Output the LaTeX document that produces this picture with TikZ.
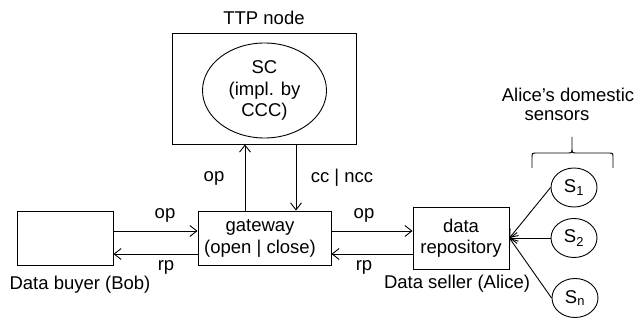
\documentclass[tikz,border=0pt]{standalone}
\usepackage{fontspec}
\setmainfont{Liberation Sans}
\usetikzlibrary{arrows.meta,shapes.geometric}
\begin{document}
\begin{tikzpicture}[x=1pt,y=-1pt,line width=0.9pt,
  every node/.style={font=\fontsize{18.5}{21.5}\selectfont},
  arr/.style={-{Straight Barb[length=7pt,width=11pt]}},
  box/.style={draw,inner sep=0pt,align=center},
  sensor/.style={draw,ellipse,inner sep=0pt,minimum width=46pt,minimum height=39pt},
  lbl/.style={inner sep=0pt}]
\useasboundingbox (0,0) rectangle (636,320);
% TTP
\node[box,minimum width=184pt,minimum height=111pt] (ttp) at (264,88.5) {};
\node[lbl] (ttpl) at (264,18) {TTP node};
\node[draw,ellipse,inner sep=0pt,minimum width=124pt,minimum height=95pt,align=center] (sc) at (264.5,90.5) {SC\\(impl. by\\CCC)};
% boxes
\node[box,minimum width=96pt,minimum height=54pt] (buyer) at (65,238) {};
\node[box,minimum width=133pt,minimum height=54pt] (gw) at (264.5,238) {};
\node[lbl,align=center] (gwt) at (260,238.5) {gateway\\(open | close)};
\node[box,minimum width=96pt,minimum height=62pt] (repo) at (461,238) {data\\repository};
\node[lbl] (buyerl) at (80,285) {Data buyer (Bob)};
\node[lbl] (sellerl) at (457,284) {Data seller (Alice)};
% horizontal arrows
\draw[arr] ([yshift=7pt]buyer.east) -- ([yshift=7pt]gw.west);
\draw[arr] ([yshift=-16pt]gw.west) -- ([yshift=-16pt]buyer.east);
\draw[arr] ([yshift=7pt]gw.east) -- (repo.west |- 0,231);
\draw[arr] (repo.west |- 0,254) -- ([yshift=-16pt]gw.east);
\node[lbl] (op1) at (165,215) {op};
\node[lbl] (rp1) at (166,267) {rp};
\node[lbl] (op2) at (364,215) {op};
\node[lbl] (rp2) at (364,267) {rp};
% vertical arrows
\draw[arr] (gw.north -| 245,0) -- (ttp.south -| 245,0);
\draw[arr] (ttp.south -| 296,0) -- (gw.north -| 296,0);
\node[lbl] (op3) at (214,178) {op};
\node[lbl] (cc) at (342,178) {cc | ncc};
% sensors
\node[sensor] (s1) at (574,187.5) {S\textsubscript{1}};
\node[sensor] (s2) at (574,238) {S\textsubscript{2}};
\node[sensor] (sn) at (575,298) {S\textsubscript{n}};
\draw[arr] (s1.west) -- (repo.east);
\draw[arr] (s2.west) -- (repo.east);
\draw[arr] (sn.west) -- (repo.east);
% brace
\draw (532,168) -- (532,158) .. controls (532,153) .. (537,153) -- (567,153)
  .. controls (572,153) .. (572,148) -- (572,137)
  (572,148) .. controls (572,153) .. (577,153) -- (608,153)
  .. controls (613,153) .. (613,158) -- (613,168);
\node[lbl] (al1) at (568,95) {Alice’s domestic};
\node[lbl] (al2) at (557,116) {sensors};
\end{tikzpicture}
\end{document}
